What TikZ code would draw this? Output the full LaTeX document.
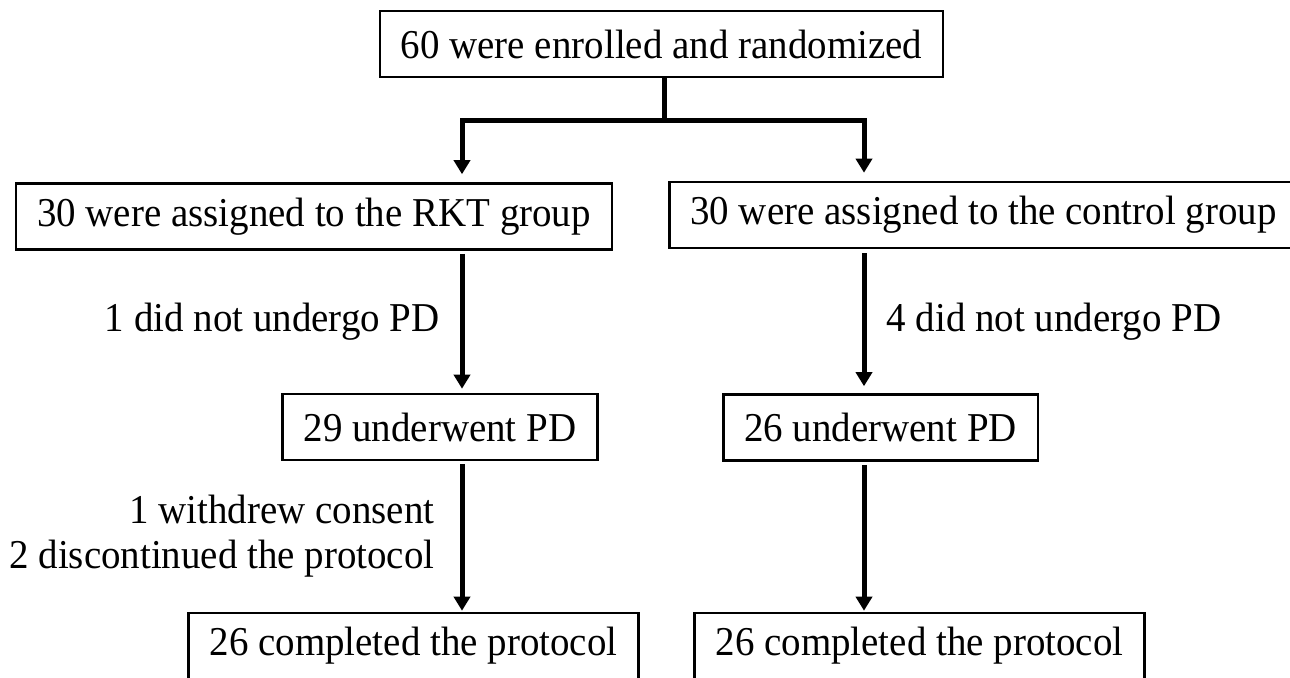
\documentclass[tikz,border=0pt]{standalone}
\usepackage{fontspec}
\setmainfont{Liberation Serif}[FakeStretch=0.95]
\usetikzlibrary{arrows.meta,calc}

\begin{document}
\begin{tikzpicture}[x=0.5pt,y=-0.5pt,
  font=\fontsize{20.5}{22.5}\selectfont,
  box/.style={draw=black,line width=1.3pt,inner xsep=10.5pt,inner ysep=0pt,minimum height=33pt},
  arrow/.style={line width=2.5pt,-{Triangle[width=8pt,length=7pt]}},
  note/.style={inner sep=0pt,align=right}]

\useasboundingbox (0,0) rectangle (1290,677);

\coordinate (split) at (664,120);
\coordinate (lcol) at (462,0);
\coordinate (rcol) at (864,0);

\node[box] (enrolled) at (661.5,44) {60 were enrolled and randomized};
\node[box] (rkt) at (314,216.5) {30 were assigned to the RKT group};
\node[box,anchor=west] (control) at (668,215) {30 were assigned to the control group};
\node[box] (pdrkt) at (440,427) {29 underwent PD};
\node[box] (pdcontrol) at (880.5,427.5) {26 underwent PD};
\node[box] (donerkt) at (413.5,646) {26 completed the protocol};
\node[box] (donecontrol) at (919.5,646) {26 completed the protocol};

\draw[arrow,shorten >=4pt] (enrolled.south -| split) -- (split) -| (rkt.north -| lcol);
\draw[arrow,shorten >=4pt] (split) -| (control.north -| rcol);

\draw[arrow,shorten <=1.5pt,shorten >=2pt] (rkt.south -| lcol) -- (pdrkt.north -| lcol)
  node[note,midway,left=10pt] (skiprkt) {1 did not undergo PD};
\draw[arrow,shorten <=1.5pt,shorten >=0.5pt] (pdrkt.south -| lcol) -- (donerkt.north -| lcol)
  node[note,midway,left=12.5pt] (droprkt) {1 withdrew consent\\2 discontinued the protocol};

\draw[arrow,shorten <=2pt,shorten >=3.5pt] (control.south -| rcol) -- (pdcontrol.north -| rcol)
  node[note,midway,right=10pt] (skipcontrol) {4 did not undergo PD};
\draw[arrow,shorten <=1.5pt,shorten >=0.5pt] (pdcontrol.south -| rcol) -- (donecontrol.north -| rcol);

\end{tikzpicture}
\end{document}
